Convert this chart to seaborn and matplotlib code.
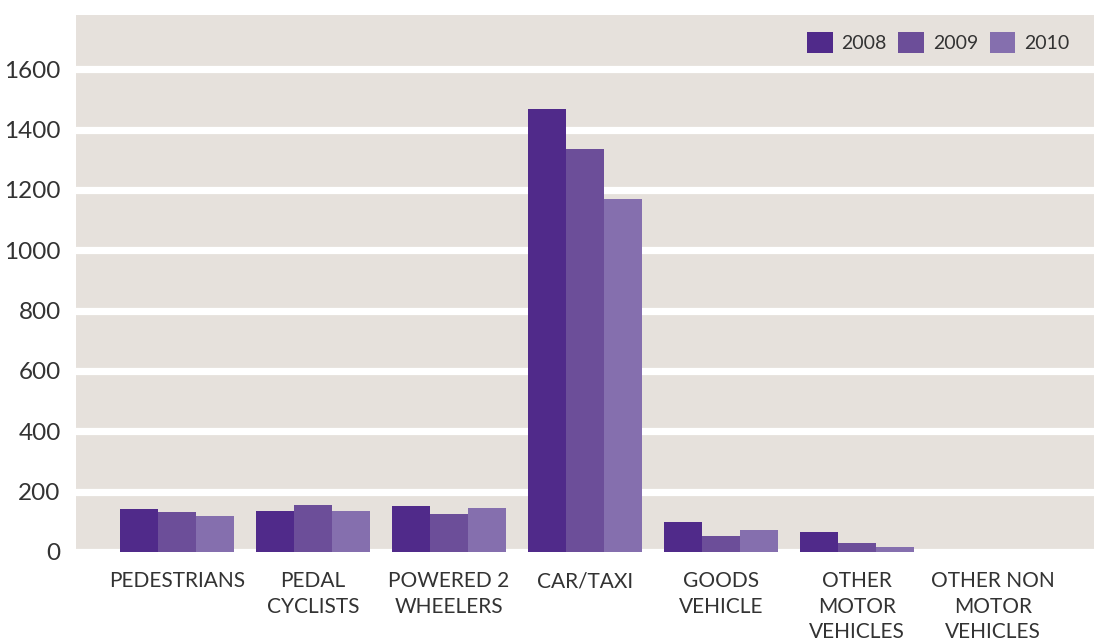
import matplotlib
matplotlib.use("Agg")
import matplotlib.pyplot as plt
import matplotlib.patches as mpatches
import seaborn as sns
import pandas as pd

# Casualties by road user type, three years
categories = ["PEDESTRIANS", "PEDAL\nCYCLISTS", "POWERED 2\nWHEELERS", "CAR/TAXI",
              "GOODS\nVEHICLE", "OTHER\nMOTOR\nVEHICLES", "OTHER NON\nMOTOR\nVEHICLES"]
years = ["2008", "2009", "2010"]
values_2008 = [143, 136, 153, 1468, 100, 66, 0]
values_2009 = [133, 156, 126, 1336, 53, 30, 0]
values_2010 = [120, 136, 146, 1169, 73, 17, 0]
y_ticks = [0, 200, 400, 600, 800, 1000, 1200, 1400, 1600]

colors = ["#502a8a", "#6c4e99", "#856fae"]
bg = "#e6e1dc"
text_color = "#333333"

rows = []
for yr, vals in zip(years, [values_2008, values_2009, values_2010]):
    for cat, v in zip(categories, vals):
        rows.append({"category": cat, "year": yr, "value": v})
df = pd.DataFrame(rows)

sns.set_theme(style="white")
plt.rcParams["font.family"] = ["Lato", "DejaVu Sans"]

fig = plt.figure(figsize=(10.94, 6.40), dpi=100)
ax = fig.add_axes([76 / 1094, 88 / 640, 1 - 76 / 1094, (552 - 15) / 640])
ax.set_facecolor(bg)

sns.barplot(data=df, x="category", y="value", hue="year", order=categories,
            hue_order=years, palette=colors, saturation=1, width=0.838,
            dodge=True, ax=ax, legend=False, linewidth=0)

ax.set_ylim(0, 1780)
ax.set_xlim(-0.743, len(categories) - 1 + 0.743)
ax.set_yticks(y_ticks)
ax.set_yticklabels([str(t) for t in y_ticks])
ax.set_xticks(range(len(categories)))
ax.set_xticklabels(categories, linespacing=1.34)
ax.set_axisbelow(True)
ax.yaxis.grid(True, color="white", linewidth=5.2)
ax.xaxis.grid(False)
for s in ax.spines.values():
    s.set_visible(False)
ax.tick_params(axis="y", length=0, pad=11, labelsize=17.5, labelcolor=text_color)
ax.tick_params(axis="x", length=0, pad=14, labelsize=15, labelcolor=text_color)
ax.set_xlabel("")
ax.set_ylabel("")

handles = [mpatches.Patch(facecolor=c, edgecolor="none", label=y) for c, y in zip(colors, years)]
ax.legend(handles=handles, ncol=3, frameon=False, loc="upper right",
          bbox_to_anchor=(0.987, 0.99), labelcolor=text_color,
          prop={"size": 14},
          handlelength=1.3, handleheight=1.3, handletextpad=0.46,
          columnspacing=0.6, borderaxespad=0.2)

fig.savefig("out.png", dpi=100)
